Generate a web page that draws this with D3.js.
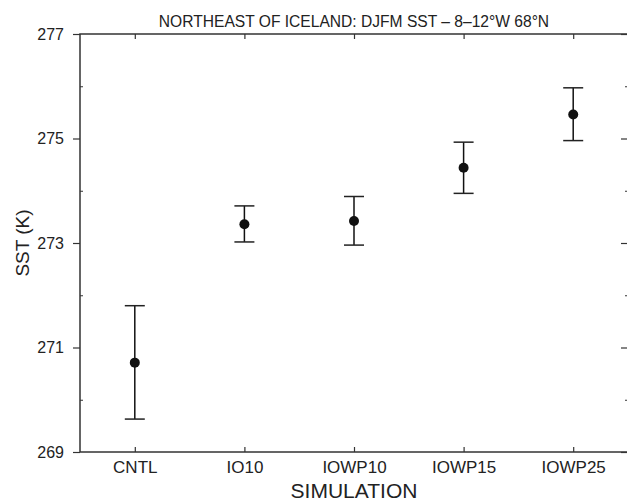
<!DOCTYPE html>
<html>
<head>
<meta charset="utf-8">
<script src="https://cdn.jsdelivr.net/npm/d3@7"></script>
<style>
  html, body { margin: 0; padding: 0; background: #fff; }
  svg { display: block; font-family: "Liberation Sans", Arial, Helvetica, sans-serif; }
</style>
</head>
<body>
<svg id="chart" width="627" height="502"></svg>
<script>
// ---- data ----
const simulations = ["CNTL", "IO10", "IOWP10", "IOWP15", "IOWP25"];
const sstMean = [270.71, 273.36, 273.42, 274.44, 275.46];
const sstLow  = [269.63, 273.02, 272.96, 273.95, 274.96];
const sstHigh = [271.80, 273.71, 273.89, 274.93, 275.97];
const yMajorTicks = [269, 271, 273, 275, 277];
const yMinorTicks = [270, 272, 274, 276];
const titleText = "NORTHEAST OF ICELAND: DJFM SST \u2013 8\u201312\u00B0W 68\u00B0N";
const yLabel = "SST (K)";
const xLabel = "SIMULATION";

// ---- layout ----
const svg = d3.select("#chart");
const mL = 80, mR = 628, mT = 34, mB = 452;
const axisColor = "#333";

const x = d3.scalePoint().domain(simulations).range([mL, mR]).padding(0.5);
const y = d3.scaleLinear().domain([269, 277]).range([mB, mT]);

// frame
svg.append("rect")
  .attr("x", mL).attr("y", mT)
  .attr("width", mR - mL).attr("height", mB - mT)
  .attr("fill", "none").attr("stroke", axisColor).attr("stroke-width", 1.5);

// left axis: major ticks outward, minor inward
const gL = svg.append("g").attr("transform", `translate(${mL},0)`)
  .call(d3.axisLeft(y).tickValues(yMajorTicks).tickFormat(d3.format("d")).tickSize(7).tickPadding(9));
gL.select(".domain").remove();
gL.selectAll("line").attr("stroke", axisColor).attr("stroke-width", 1.2);
gL.selectAll("text").attr("font-size", 16).attr("fill", "#222");
const gLm = svg.append("g").attr("transform", `translate(${mL},0)`)
  .call(d3.axisRight(y).tickValues(yMinorTicks).tickFormat("").tickSize(3));
gLm.select(".domain").remove();
gLm.selectAll("line").attr("stroke", axisColor).attr("stroke-width", 1);

// right axis: ticks inward
const gR = svg.append("g").attr("transform", `translate(${mR},0)`)
  .call(d3.axisLeft(y).tickValues(yMajorTicks).tickFormat("").tickSize(7));
gR.select(".domain").remove();
gR.selectAll("line").attr("stroke", axisColor).attr("stroke-width", 1.2);
const gRm = svg.append("g").attr("transform", `translate(${mR},0)`)
  .call(d3.axisLeft(y).tickValues(yMinorTicks).tickFormat("").tickSize(3));
gRm.select(".domain").remove();
gRm.selectAll("line").attr("stroke", axisColor).attr("stroke-width", 1);

// bottom axis: ticks inward, labels below
const gB = svg.append("g").attr("transform", `translate(0,${mB})`)
  .call(d3.axisBottom(x).tickSizeInner(-5).tickSizeOuter(0).tickPadding(9));
gB.select(".domain").remove();
gB.selectAll("line").attr("stroke", axisColor).attr("stroke-width", 1.2);
gB.selectAll("text").attr("font-size", 17).attr("fill", "#222");

// top axis: ticks inward
const gT = svg.append("g").attr("transform", `translate(0,${mT})`)
  .call(d3.axisTop(x).tickSizeInner(-5).tickSizeOuter(0).tickFormat(""));
gT.select(".domain").remove();
gT.selectAll("line").attr("stroke", axisColor).attr("stroke-width", 1.2);

// error bars
const capHalf = 10;
const bars = svg.append("g").selectAll("g").data(simulations).join("g");
bars.append("line")
  .attr("x1", d => x(d)).attr("x2", d => x(d))
  .attr("y1", (d, i) => y(sstLow[i])).attr("y2", (d, i) => y(sstHigh[i]))
  .attr("stroke", "#111").attr("stroke-width", 1.5);
bars.append("line")
  .attr("x1", d => x(d) - capHalf).attr("x2", d => x(d) + capHalf)
  .attr("y1", (d, i) => y(sstHigh[i])).attr("y2", (d, i) => y(sstHigh[i]))
  .attr("stroke", "#222").attr("stroke-width", 1.5);
bars.append("line")
  .attr("x1", d => x(d) - capHalf).attr("x2", d => x(d) + capHalf)
  .attr("y1", (d, i) => y(sstLow[i])).attr("y2", (d, i) => y(sstLow[i]))
  .attr("stroke", "#222").attr("stroke-width", 1.5);
bars.append("circle")
  .attr("cx", d => x(d)).attr("cy", (d, i) => y(sstMean[i]))
  .attr("r", 5).attr("fill", "#111");

// title
svg.append("text")
  .attr("x", (mL + mR) / 2).attr("y", 27)
  .attr("text-anchor", "middle").attr("font-size", 15.6).attr("fill", "#222")
  .text(titleText);

// axis titles
svg.append("text")
  .attr("x", (mL + mR) / 2).attr("y", 498)
  .attr("text-anchor", "middle").attr("font-size", 21).attr("fill", "#222")
  .text(xLabel);
svg.append("text")
  .attr("transform", `translate(29,${(mT + mB) / 2}) rotate(-90)`)
  .attr("text-anchor", "middle").attr("font-size", 19).attr("fill", "#222")
  .text(yLabel);
</script>
</body>
</html>
